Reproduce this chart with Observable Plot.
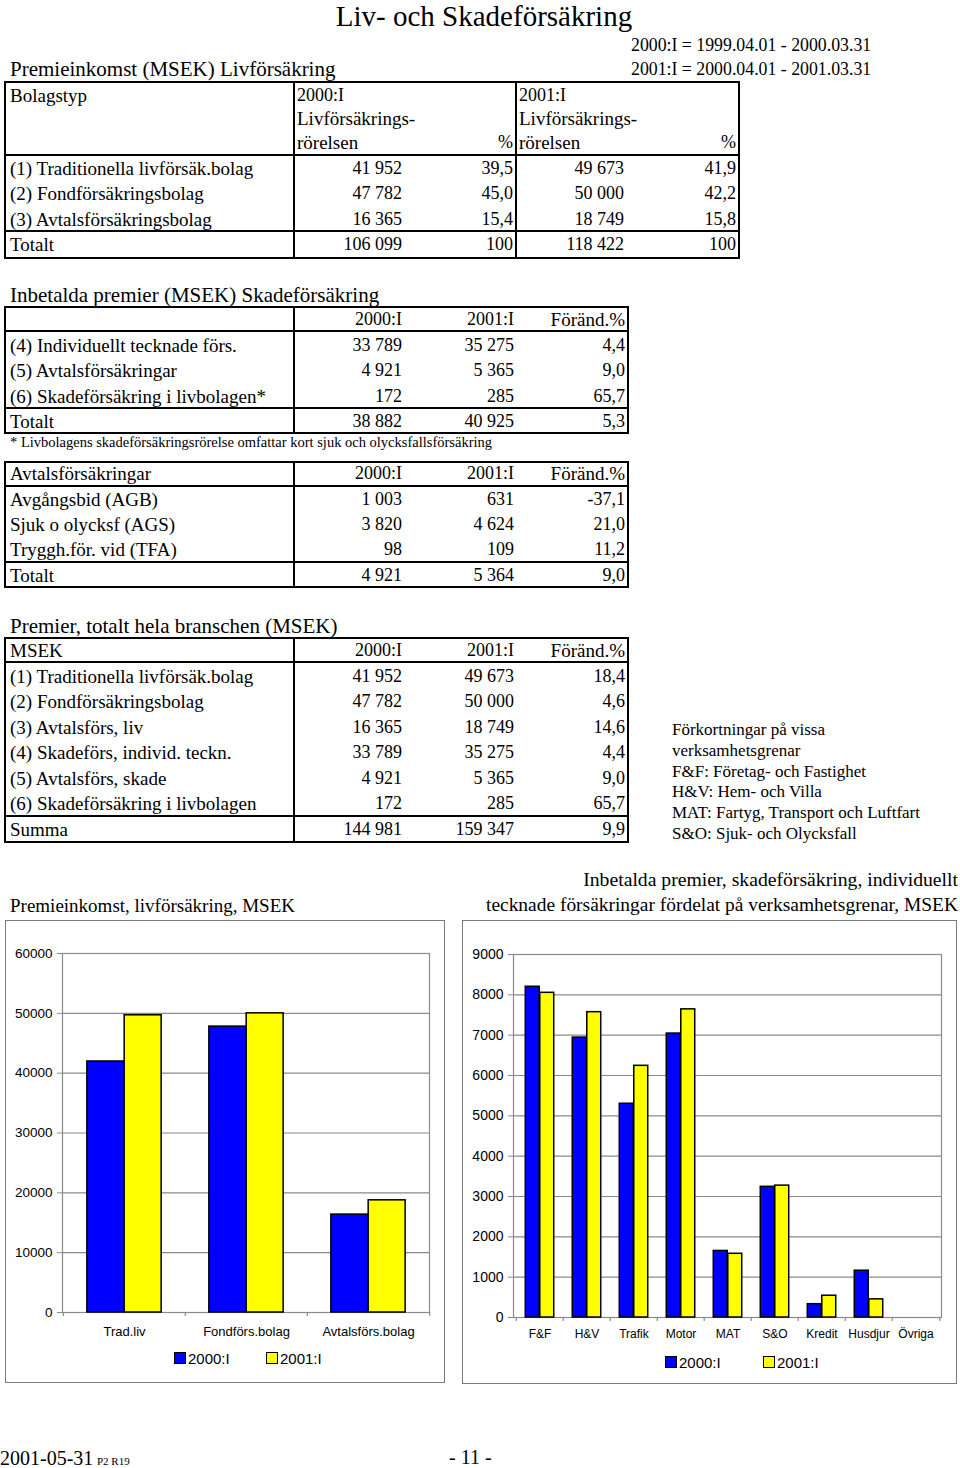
<!DOCTYPE html>
<html>
<head>
<meta charset="utf-8">
<script src="https://cdn.jsdelivr.net/npm/d3@7"></script>
<script src="https://cdn.jsdelivr.net/npm/@observablehq/plot@0.6"></script>
<style>
  html, body { margin: 0; padding: 0; background: #fff; }
  #page { position: relative; width: 960px; height: 1468px; overflow: hidden; background: #fff; color: #000; }
  .t { position: absolute; white-space: nowrap; line-height: 1; }
  .ln { position: absolute; background: #000; }
  .chartbox { position: absolute; border: 1.5px solid #7a7a7a; box-sizing: border-box; }
  .chartsvg { position: absolute; }
</style>
</head>
<body>
<div id="page"></div>
<script>
// ---------- DATA ----------
const pageTitle = "Liv- och Skadeförsäkring";
const periodNotes = ["2000:I = 1999.04.01 - 2000.03.31", "2001:I = 2000.04.01 - 2001.03.31"];
const periods = ["2000:I", "2001:I"];
const periodColors = ["#0000ff", "#ffff00"];

// Table 1: Premieinkomst livförsäkring
const lifeTitle = "Premieinkomst (MSEK) Livförsäkring";
const lifeRows = ["(1) Traditionella livförsäk.bolag", "(2) Fondförsäkringsbolag", "(3) Avtalsförsäkringsbolag"];
const life2000 = [41952, 47782, 16365];
const life2000Pct = [39.5, 45.0, 15.4];
const life2001 = [49673, 50000, 18749];
const life2001Pct = [41.9, 42.2, 15.8];
const lifeTotal = [106099, 100, 118422, 100];

// Table 2: Inbetalda premier skadeförsäkring
const skadeTitle = "Inbetalda premier (MSEK) Skadeförsäkring";
const skadeRows = ["(4) Individuellt tecknade förs.", "(5) Avtalsförsäkringar", "(6) Skadeförsäkring i livbolagen*"];
const skade2000 = [33789, 4921, 172];
const skade2001 = [35275, 5365, 285];
const skadeChg = [4.4, 9.0, 65.7];
const skadeTotal = [38882, 40925, 5.3];
const skadeFootnote = "* Livbolagens skadeförsäkringsrörelse omfattar kort sjuk och olycksfallsförsäkring";

// Table 3: Avtalsförsäkringar
const avtalRows = ["Avgångsbid (AGB)", "Sjuk o olycksf (AGS)", "Tryggh.för. vid (TFA)"];
const avtal2000 = [1003, 3820, 98];
const avtal2001 = [631, 4624, 109];
const avtalChg = [-37.1, 21.0, 11.2];
const avtalTotal = [4921, 5364, 9.0];

// Table 4: Premier totalt
const totTitle = "Premier, totalt hela branschen (MSEK)";
const totRows = ["(1) Traditionella livförsäk.bolag", "(2) Fondförsäkringsbolag", "(3) Avtalsförs, liv",
  "(4) Skadeförs, individ. teckn.", "(5) Avtalsförs, skade", "(6) Skadeförsäkring i livbolagen"];
const tot2000 = [41952, 47782, 16365, 33789, 4921, 172];
const tot2001 = [49673, 50000, 18749, 35275, 5365, 285];
const totChg = [18.4, 4.6, 14.6, 4.4, 9.0, 65.7];
const totSum = [144981, 159347, 9.9];

const abbrevNotes = ["Förkortningar på vissa", "verksamhetsgrenar", "F&F: Företag- och Fastighet",
  "H&V: Hem- och Villa", "MAT: Fartyg, Transport och Luftfart", "S&O: Sjuk- och Olycksfall"];

// Chart 1
const chart1Title = "Premieinkomst, livförsäkring, MSEK";
const chart1Cats = ["Trad.liv", "Fondförs.bolag", "Avtalsförs.bolag"];
const chart1Y2000 = [41952, 47782, 16365];
const chart1Y2001 = [49673, 50000, 18749];
const chart1Ticks = [0, 10000, 20000, 30000, 40000, 50000, 60000];

// Chart 2
const chart2Title = ["Inbetalda premier, skadeförsäkring, individuellt", "tecknade försäkringar fördelat på verksamhetsgrenar, MSEK"];
const chart2Cats = ["F&F", "H&V", "Trafik", "Motor", "MAT", "S&O", "Kredit", "Husdjur", "Övriga"];
const chart2Y2000 = [8200, 6940, 5300, 7040, 1650, 3240, 330, 1160, 0];
const chart2Y2001 = [8050, 7570, 6240, 7640, 1580, 3270, 540, 450, 0];
const chart2Ticks = [0, 1000, 2000, 3000, 4000, 5000, 6000, 7000, 8000, 9000];

const footerDate = "2001-05-31";
const footerCode = "P2 R19";
const footerPage = "- 11 -";

// ---------- HELPERS ----------
const SERIF = '"Liberation Serif", "DejaVu Serif", serif';
const SANS = '"Liberation Sans", Arial, sans-serif';
const page = document.getElementById("page");
const num = n => d3.format(",")(n).replace(/,/g, " ");
const pct = v => v.toFixed(1).replace(".", ",");
const LBL = 19;   // text label size in tables
const NUM = 18;   // numeric size in tables

function txt(s, x, y, {size = LBL, anchor = "start", family = SERIF} = {}) {
  const el = document.createElement("div");
  el.className = "t";
  el.textContent = s;
  const tx = anchor === "end" ? "-100%" : anchor === "middle" ? "-50%" : "0";
  el.style.cssText += `left:${x}px;top:${y}px;font-size:${size}px;font-family:${family};transform:translate(${tx},-50%);`;
  page.appendChild(el);
  return el;
}
function hline(x1, x2, y, w = 2) {
  const el = document.createElement("div");
  el.className = "ln";
  el.style.cssText += `left:${x1}px;top:${y - w / 2}px;width:${x2 - x1}px;height:${w}px;`;
  page.appendChild(el);
}
function vline(x, y1, y2, w = 2) {
  const el = document.createElement("div");
  el.className = "ln";
  el.style.cssText += `left:${x - w / 2}px;top:${y1}px;width:${w}px;height:${y2 - y1}px;`;
  page.appendChild(el);
}
function frame(x1, y1, x2, y2) {
  hline(x1 - 1, x2 + 1, y1); hline(x1 - 1, x2 + 1, y2);
  vline(x1, y1, y2); vline(x2, y1, y2);
}

// ---------- HEADER ----------
txt(pageTitle, 484, 15.5, {size: 29, anchor: "middle"});
txt(periodNotes[0], 631, 46, {size: 17.8});
txt(periodNotes[1], 631, 70, {size: 17.8});

// ---------- TABLE 1 ----------
txt(lifeTitle, 10, 69, {size: 21});
{
  const top = 82, bottom = 258, hdr = 155, tot = 231;
  frame(5, top, 739, bottom);
  vline(294, top, bottom); vline(516, top, bottom);
  hline(5, 739, hdr); hline(5, 739, tot);
  txt("Bolagstyp", 10, 95);
  [[297, 513, periods[0]], [519, 736, periods[1]]].forEach(([x, xe, p]) => {
    txt(p, x, 95, {size: NUM});
    txt("Livförsäkrings-", x, 118);
    txt("rörelsen", x, 142);
    txt("%", xe, 142, {anchor: "end", size: NUM});
  });
  lifeRows.forEach((r, i) => {
    const y = 168 + i * 25.4;
    txt(r, 10, y);
    txt(num(life2000[i]), 402, y, {anchor: "end", size: NUM});
    txt(pct(life2000Pct[i]), 513, y, {anchor: "end", size: NUM});
    txt(num(life2001[i]), 624, y, {anchor: "end", size: NUM});
    txt(pct(life2001Pct[i]), 736, y, {anchor: "end", size: NUM});
  });
  txt("Totalt", 10, 244);
  txt(num(lifeTotal[0]), 402, 244, {anchor: "end", size: NUM});
  txt(String(lifeTotal[1]), 513, 244, {anchor: "end", size: NUM});
  txt(num(lifeTotal[2]), 624, 244, {anchor: "end", size: NUM});
  txt(String(lifeTotal[3]), 736, 244, {anchor: "end", size: NUM});
}

// generic 3-column table
function table3({top, bottom, hdr, tot, headLabel, rows, a, b, c, total, totalLabel, hdrY, firstY, totY}) {
  frame(5, top, 628, bottom);
  vline(294, top, bottom);
  hline(5, 628, hdr); hline(5, 628, tot);
  if (headLabel) txt(headLabel, 10, hdrY);
  txt(periods[0], 402, hdrY, {anchor: "end", size: NUM});
  txt(periods[1], 514, hdrY, {anchor: "end", size: NUM});
  txt("Föränd.%", 625, hdrY, {anchor: "end"});
  rows.forEach((r, i) => {
    const y = firstY + i * 25.4;
    txt(r, 10, y);
    txt(num(a[i]), 402, y, {anchor: "end", size: NUM});
    txt(num(b[i]), 514, y, {anchor: "end", size: NUM});
    txt(pct(c[i]), 625, y, {anchor: "end", size: NUM});
  });
  txt(totalLabel, 10, totY);
  txt(num(total[0]), 402, totY, {anchor: "end", size: NUM});
  txt(num(total[1]), 514, totY, {anchor: "end", size: NUM});
  txt(pct(total[2]), 625, totY, {anchor: "end", size: NUM});
}

// ---------- TABLE 2 ----------
txt(skadeTitle, 10, 295, {size: 21});
table3({top: 307, bottom: 433, hdr: 331, tot: 408, headLabel: "", rows: skadeRows,
  a: skade2000, b: skade2001, c: skadeChg, total: skadeTotal, totalLabel: "Totalt",
  hdrY: 319, firstY: 345, totY: 421});
txt(skadeFootnote, 10, 442, {size: 14.5});

// ---------- TABLE 3 ----------
table3({top: 462, bottom: 587, hdr: 486, tot: 562, headLabel: "Avtalsförsäkringar", rows: avtalRows,
  a: avtal2000, b: avtal2001, c: avtalChg, total: avtalTotal, totalLabel: "Totalt",
  hdrY: 473, firstY: 498.5, totY: 575});

// ---------- TABLE 4 ----------
txt(totTitle, 10, 626, {size: 21});
table3({top: 638, bottom: 842, hdr: 662, tot: 816, headLabel: "MSEK", rows: totRows,
  a: tot2000, b: tot2001, c: totChg, total: totSum, totalLabel: "Summa",
  hdrY: 650, firstY: 676, totY: 828.5});

abbrevNotes.forEach((s, i) => txt(s, 672, 729 + i * 20.8, {size: 17}));

// ---------- CHART TITLES ----------
txt(chart1Title, 10, 905, {size: 19});
txt(chart2Title[0], 958, 880, {size: 19.7, anchor: "end"});
txt(chart2Title[1], 958, 905, {size: 19.45, anchor: "end"});

// ---------- CHARTS ----------
function barChart({cats, a, b, ticks, left, top, width, height, ml, mr, mt, mb, xSize, ySize, xPad}) {
  const rows = cats.map((c, i) => ({cat: c, v2000: a[i], v2001: b[i]}));
  const band = (width - ml - mr) / cats.length;
  const barW = band * 0.305;
  const gap = (band - 2 * barW) / 2;
  const yMax = ticks[ticks.length - 1];
  const tickLen = yMax * 4 / (height - mt - mb);
  const svg = Plot.plot({
    width, height, marginLeft: ml, marginRight: mr, marginTop: mt, marginBottom: mb,
    style: {fontFamily: SANS, fontSize: "13px", background: "transparent", color: "#000", overflow: "visible"},
    x: {domain: cats, padding: 0, label: null, tickSize: 0, tickPadding: xPad},
    y: {domain: [0, yMax], ticks, tickFormat: d => String(d), label: null, tickSize: 5, tickPadding: 5},
    marks: [
      Plot.ruleY(ticks, {stroke: "#8a8a8a", strokeWidth: 1.2}),
      Plot.frame({stroke: "#8a8a8a", strokeWidth: 1.2}),
      Plot.ruleX(cats, {x: d => d, dx: -band / 2, y1: 0, y2: -tickLen, stroke: "#8a8a8a", strokeWidth: 1.2}),
      Plot.ruleX(cats.slice(-1), {x: d => d, dx: band / 2, y1: 0, y2: -tickLen, stroke: "#8a8a8a", strokeWidth: 1.2}),
      Plot.barY(rows, {x: "cat", y: "v2000", fill: periodColors[0], stroke: "#000", strokeWidth: 1.5,
        insetLeft: gap, insetRight: band / 2}),
      Plot.barY(rows, {x: "cat", y: "v2001", fill: periodColors[1], stroke: "#000", strokeWidth: 1.5,
        insetLeft: band / 2, insetRight: gap})
    ]
  });
  svg.classList.add("chartsvg");
  svg.style.left = left + "px";
  svg.style.top = top + "px";
  const s = d3.select(svg);
  s.selectAll('[aria-label="y-axis tick"]').attr("stroke", "#8a8a8a");
  s.selectAll('[aria-label="x-axis tick label"], [aria-label="x-axis tick label"] text').attr("font-size", xSize + "px");
  s.selectAll('[aria-label="y-axis tick label"], [aria-label="y-axis tick label"] text').attr("font-size", ySize + "px");
  page.appendChild(svg);
}

function chartBox(x1, y1, x2, y2) {
  const el = document.createElement("div");
  el.className = "chartbox";
  el.style.cssText += `left:${x1}px;top:${y1}px;width:${x2 - x1}px;height:${y2 - y1}px;`;
  page.appendChild(el);
}

function legend(xs, y) {
  periods.forEach((p, i) => {
    const sw = document.createElement("div");
    sw.style.cssText = `position:absolute;left:${xs[i]}px;top:${y - 6}px;width:12px;height:12px;box-sizing:border-box;border:1.5px solid #000;background:${periodColors[i]};`;
    page.appendChild(sw);
    txt(p, xs[i] + 14, y, {size: 15, family: SANS});
  });
}

chartBox(5, 920, 445, 1383);
barChart({cats: chart1Cats, a: chart1Y2000, b: chart1Y2001, ticks: chart1Ticks,
  left: 5, top: 920, width: 440, height: 430, ml: 57, mr: 16, mt: 33, mb: 38, xSize: 13, ySize: 13.5, xPad: 14});
legend([174, 266], 1358);

chartBox(462, 920, 957, 1384);
barChart({cats: chart2Cats, a: chart2Y2000, b: chart2Y2001, ticks: chart2Ticks,
  left: 461, top: 920, width: 496, height: 430, ml: 52, mr: 16, mt: 34, mb: 33, xSize: 12, ySize: 14, xPad: 12});
legend([665, 763], 1362);

// ---------- FOOTER ----------
txt(footerDate, 0, 1458, {size: 20});
txt(footerCode, 97, 1461, {size: 11});
txt(footerPage, 449, 1457, {size: 20});
</script>
</body>
</html>
